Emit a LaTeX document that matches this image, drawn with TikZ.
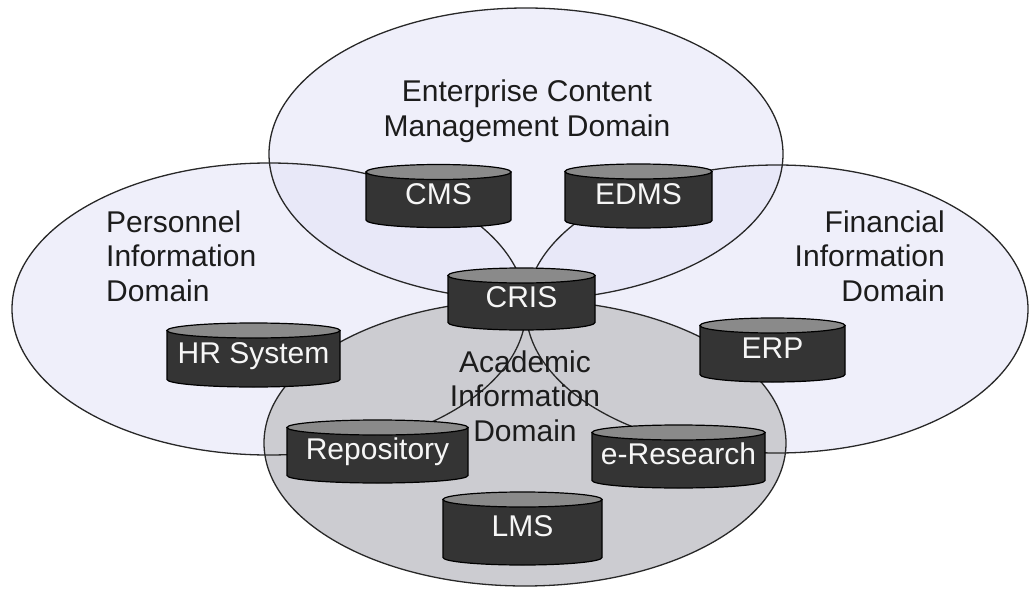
\documentclass[tikz,border=0pt]{standalone}
\usepackage{fontspec}
\setmainfont{Liberation Sans}

\definecolor{domainfill}{RGB}{226,226,246}
\definecolor{acadfill}{RGB}{204,204,209}
\definecolor{edgegray}{RGB}{40,40,40}
\definecolor{dbbodyc}{RGB}{52,52,52}
\definecolor{dbcapc}{RGB}{138,138,138}
\definecolor{labelc}{RGB}{28,28,28}
\definecolor{dbtextc}{RGB}{246,246,246}

\tikzset{
  domainarea/.style={fill=domainfill, fill opacity=0.55},
  acadarea/.style={fill=acadfill},
  domainedge/.style={draw=edgegray, line width=1.3pt},
  dbbody/.style={fill=dbbodyc, draw=black, line width=1.2pt},
  dbcap/.style={fill=dbcapc, draw=black, line width=1.2pt},
  dblabel/.style={inner sep=0pt, text=dbtextc, text height=22pt, text depth=6pt,
    font=\fontsize{30}{34.5}\selectfont},
  domainlabel/.style={inner sep=0pt, text=labelc,
    font=\fontsize{30}{34.5}\selectfont},
}

% database cylinder: name, centre x, centre y, width, height, text
\newcommand\dbcyl[6]{%
  \pgfmathsetmacro\dbL{#2-#4/2}%
  \pgfmathsetmacro\dbR{#2+#4/2}%
  \pgfmathsetmacro\dbT{#3-#5/2+7.5}%
  \pgfmathsetmacro\dbB{#3+#5/2-7.5}%
  \pgfmathsetmacro\dbrx{#4/2}%
  \filldraw[dbbody] (\dbL,\dbT) -- (\dbL,\dbB)
    arc[start angle=180, end angle=0, x radius=\dbrx, y radius=7.5]
    -- (\dbR,\dbT) -- cycle;
  \filldraw[dbcap] (#2,\dbT) ellipse[x radius=\dbrx, y radius=7.5];
  \node[dblabel, minimum width=#4pt, minimum height=#5pt] (#1) at (#2,#3) {#6};
}

\begin{document}
\begin{tikzpicture}[x=1pt, y=-1pt]
  \useasboundingbox (0,0) rectangle (1029,589);

  % domain areas
  \fill[domainarea] (269,309) ellipse[x radius=257, y radius=146];
  \fill[domainarea] (777,309) ellipse[x radius=251, y radius=144];
  \fill[domainarea] (526,154) ellipse[x radius=257, y radius=146];
  \fill[acadarea]   (525,443) ellipse[x radius=261, y radius=143];
  % domain outlines, all kept visible through the overlaps
  \draw[domainedge] (269,309) ellipse[x radius=257, y radius=146];
  \draw[domainedge] (777,309) ellipse[x radius=251, y radius=144];
  \draw[domainedge] (526,154) ellipse[x radius=257, y radius=146];
  \draw[domainedge] (525,443) ellipse[x radius=261, y radius=143];

  % databases
  \dbcyl{cms}{438.5}{196}{145}{63}{CMS}
  \dbcyl{edms}{638.5}{196}{147}{64}{EDMS}
  \dbcyl{cris}{521.5}{299}{147}{62}{CRIS}
  \dbcyl{hr}{253.5}{355}{173}{64}{HR System}
  \dbcyl{erp}{772.5}{350}{145}{64}{ERP}
  \dbcyl{repo}{377.5}{451.5}{181}{63}{Repository}
  \dbcyl{eres}{678.5}{456.5}{173}{63}{e-Research}
  \dbcyl{lms}{522.5}{528.5}{159}{73}{LMS}

  % domain names
  \node[domainlabel, align=center] (ecm) at (527,111)
    {Enterprise Content\\Management Domain};
  \node[domainlabel, align=left, anchor=west] (pers) at (106,256)
    {Personnel\\Information\\Domain};
  \node[domainlabel, align=right, anchor=east] (fin) at (945,256)
    {Financial\\Information\\Domain};
  \node[domainlabel, align=center] (acad) at (525,396)
    {Academic\\Information\\Domain};
\end{tikzpicture}
\end{document}
